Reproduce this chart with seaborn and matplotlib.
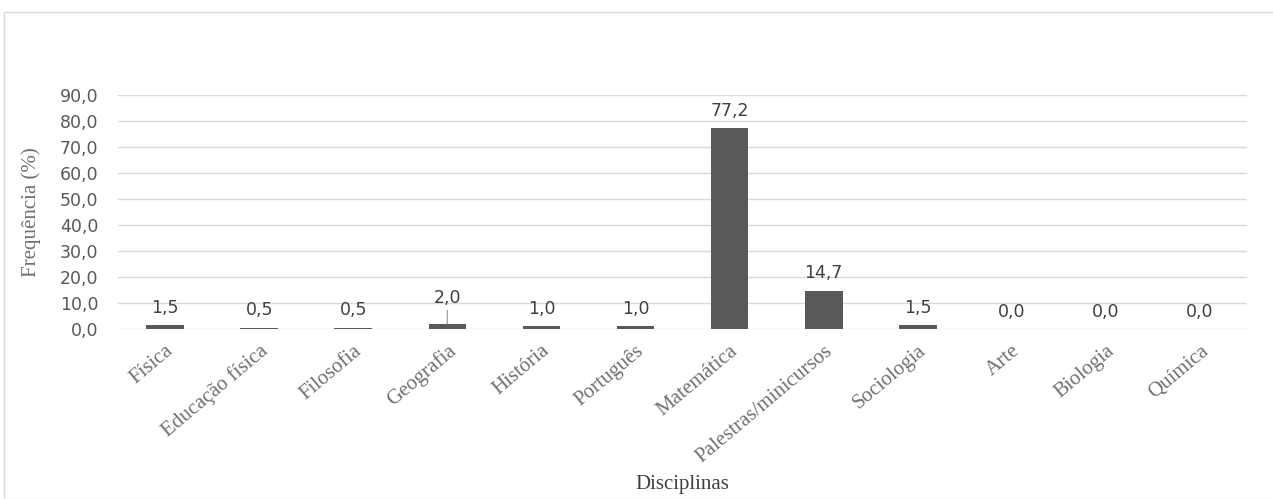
import matplotlib
matplotlib.use("Agg")
import matplotlib.pyplot as plt
import seaborn as sns
import pandas as pd
from matplotlib.ticker import FuncFormatter, MultipleLocator
from matplotlib.patches import Rectangle

categories = ["Física", "Educação física", "Filosofia", "Geografia", "História",
              "Português", "Matemática", "Palestras/minicursos", "Sociologia",
              "Arte", "Biologia", "Química"]
values = [1.5, 0.5, 0.5, 2.0, 1.0, 1.0, 77.2, 14.7, 1.5, 0.0, 0.0, 0.0]
leader_category = "Geografia"

df = pd.DataFrame({"Disciplinas": categories, "Frequência": values})

sns.set_theme(style="white")
plt.rcParams['font.family'] = ['DejaVu Sans']

fig = plt.figure(figsize=(12.73, 4.99), dpi=100)
ax = fig.add_axes([0.0927, 0.341, 0.887, 0.4689])

sns.barplot(data=df, x="Disciplinas", y="Frequência", color="#595959",
            width=0.4, saturation=1, linewidth=0, ax=ax, zorder=3)

ax.set_ylim(0, 90)
ax.yaxis.set_major_locator(MultipleLocator(10))
ax.yaxis.set_major_formatter(FuncFormatter(lambda v, p: f"{v:.1f}".replace(".", ",")))
ax.grid(axis="y", color="#d9d9d9", linewidth=1, zorder=0)
for s in ax.spines.values():
    s.set_visible(False)
ax.tick_params(axis="both", length=0, colors="#595959")
ax.tick_params(axis="y", labelsize=12.5, pad=14)
ax.tick_params(axis="x", pad=9)

for lab in ax.get_xticklabels():
    lab.set_rotation(40)
    lab.set_ha("right")
    lab.set_rotation_mode("anchor")
    lab.set_family("Liberation Serif")
    lab.set_fontsize(15)
    lab.set_color("#707070")

fmt = lambda v: f"{v:.1f}".replace(".", ",")
for container in ax.containers:
    labels = [fmt(v) if c != leader_category else "" for c, v in zip(categories, values)]
    ax.bar_label(container, labels=labels, padding=6, fontsize=12.5, color="#404040")

i = categories.index(leader_category)
ax.annotate(fmt(values[i]), xy=(i, values[i]), xytext=(0, 12), textcoords="offset points",
            ha="center", va="bottom", fontsize=12.5, color="#404040",
            arrowprops=dict(arrowstyle="-", color="#a6a6a6", lw=1,
                            shrinkA=0, shrinkB=0))

ax.set_xlabel("Disciplinas", family="Liberation Serif", fontsize=15, color="#404040")
ax.xaxis.set_label_coords(0.5, -0.625)
ax.set_ylabel("Frequência (%)", family="Liberation Serif", fontsize=15, color="#707070")
ax.yaxis.set_label_coords(-0.068, 0.5)

fig.patches.append(Rectangle((4/1273, 0), 1.0, 1 - 12/499, transform=fig.transFigure,
                             fill=False, edgecolor="#d9d9d9", linewidth=1))

fig.savefig("out.png", dpi=100)
